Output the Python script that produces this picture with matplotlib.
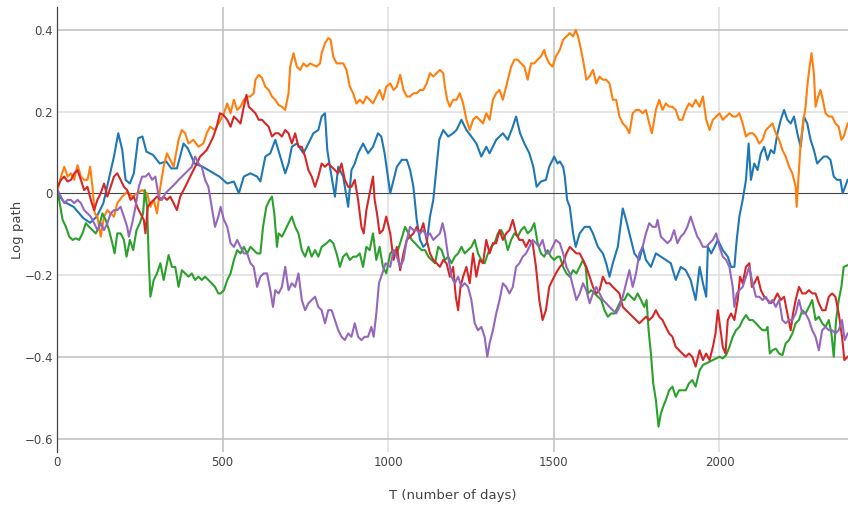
import matplotlib
matplotlib.use("Agg")
import matplotlib.pyplot as plt

# Log paths of five simulated series (day, log value)
blue_pts = [(0, 0.0), (20, -0.02), (50, -0.033), (80, -0.061), (100, -0.072), (120, -0.057), (140, -0.024), (155, 0.029),
            (172, 0.09), (185, 0.147), (197, 0.106), (207, 0.033), (220, 0.024), (232, 0.049), (245, 0.135), (258, 0.139),
            (270, 0.102), (290, 0.094), (310, 0.073), (330, 0.078), (345, 0.061), (362, 0.061), (382, 0.122), (395, 0.11),
            (415, 0.073), (440, 0.065), (465, 0.053), (490, 0.041),
            (514, 0.024), (534, 0.029), (549, 0.0), (564, 0.041), (584, 0.049), (604, 0.041), (614, 0.029), (629, 0.09),
            (644, 0.098), (659, 0.131), (674, 0.09), (689, 0.049), (699, 0.073), (709, 0.114), (724, 0.122), (744, 0.098),
            (759, 0.122), (774, 0.147), (789, 0.155), (799, 0.188), (809, 0.196), (816, 0.106), (824, 0.065), (839, -0.008),
            (849, 0.065), (864, 0.041), (879, -0.033), (889, 0.057), (899, 0.073), (909, 0.098), (924, 0.122), (939, 0.098),
            (954, 0.114), (969, 0.147), (979, 0.139), (989, 0.098), (999, 0.041),
            (1006, 0.0), (1016, 0.033), (1026, 0.065), (1041, 0.082), (1056, 0.082), (1066, 0.057), (1076, 0.016), (1086, -0.065),
            (1096, -0.114), (1106, -0.131), (1116, -0.122), (1126, -0.057), (1136, -0.016), (1146, 0.065), (1154, 0.131),
            (1166, 0.155), (1181, 0.139), (1196, 0.147), (1206, 0.155), (1221, 0.18), (1236, 0.155), (1251, 0.139), (1266, 0.122),
            (1281, 0.09), (1296, 0.114), (1306, 0.098), (1326, 0.131), (1346, 0.147), (1361, 0.131), (1376, 0.163), (1386, 0.188),
            (1398, 0.147), (1411, 0.122), (1426, 0.098), (1438, 0.065), (1448, 0.016), (1461, 0.029), (1476, 0.033), (1486, 0.065),
            (1501, 0.09), (1511, 0.073),
            (1518, 0.078), (1528, 0.065), (1533, 0.041), (1540, -0.016), (1548, -0.033), (1558, -0.098), (1566, -0.131),
            (1578, -0.098), (1593, -0.082), (1608, -0.082), (1618, -0.098), (1633, -0.131), (1648, -0.147), (1658, -0.171),
            (1668, -0.204), (1678, -0.171), (1693, -0.131), (1708, -0.037), (1718, -0.065), (1728, -0.098), (1743, -0.147),
            (1758, -0.163), (1768, -0.131), (1778, -0.163), (1793, -0.18), (1808, -0.147), (1823, -0.155), (1838, -0.163),
            (1853, -0.171), (1868, -0.212), (1883, -0.18), (1898, -0.188), (1913, -0.212), (1928, -0.261),
            (1940, -0.18), (1950, -0.22), (1960, -0.253), (1965, -0.131), (1975, -0.147), (1985, -0.131), (1995, -0.114),
            (2010, -0.139), (2025, -0.155), (2035, -0.18), (2045, -0.18), (2052, -0.114), (2060, -0.057), (2070, -0.016),
            (2080, 0.033), (2088, 0.122), (2095, 0.033), (2105, 0.073), (2115, 0.057), (2125, 0.098), (2135, 0.114),
            (2145, 0.082), (2155, 0.106), (2165, 0.098), (2175, 0.147), (2185, 0.18), (2195, 0.204), (2205, 0.18), (2215, 0.171),
            (2225, 0.188), (2235, 0.147), (2245, 0.114), (2255, 0.188), (2265, 0.171), (2275, 0.131), (2285, 0.106),
            (2295, 0.073), (2305, 0.082), (2315, 0.09), (2325, 0.09), (2335, 0.082), (2345, 0.041), (2355, 0.033),
            (2365, 0.033), (2372, 0.0), (2387, 0.033)]

orange_pts = [(0, 0.0), (2, 0.008), (12, 0.041), (22, 0.065), (32, 0.041), (42, 0.049), (52, 0.033), (62, 0.069), (72, 0.041),
              (82, 0.033), (92, 0.033), (100, 0.065), (107, 0.016), (114, -0.049), (122, -0.057), (132, -0.106), (142, -0.057),
              (152, -0.041), (162, -0.049), (172, -0.057), (182, -0.024), (197, -0.008), (212, 0.004), (227, -0.008), (242, 0.0),
              (257, 0.008), (272, 0.0), (282, -0.033), (292, -0.016), (302, -0.049), (312, 0.016), (322, 0.065), (332, 0.098),
              (342, 0.082), (352, 0.065), (367, 0.131), (377, 0.155), (387, 0.147), (397, 0.122), (412, 0.131), (427, 0.114),
              (442, 0.122), (452, 0.147), (462, 0.163), (477, 0.155), (487, 0.171),
              (494, 0.18), (504, 0.196), (514, 0.22), (524, 0.196), (534, 0.229), (544, 0.204), (554, 0.212), (564, 0.229),
              (574, 0.237), (584, 0.237), (594, 0.245), (599, 0.278), (609, 0.29), (619, 0.282), (629, 0.261), (639, 0.253),
              (649, 0.237), (659, 0.229), (669, 0.216), (679, 0.212), (689, 0.204), (699, 0.245), (704, 0.31), (714, 0.343),
              (724, 0.31), (734, 0.302), (744, 0.318), (754, 0.31), (764, 0.318), (774, 0.314), (784, 0.31), (794, 0.318),
              (799, 0.343), (809, 0.367), (819, 0.38), (826, 0.376), (834, 0.335), (844, 0.318), (854, 0.318), (864, 0.318),
              (874, 0.302), (884, 0.261), (894, 0.245), (904, 0.22), (914, 0.229), (924, 0.22), (934, 0.237), (944, 0.229),
              (954, 0.22), (964, 0.237), (974, 0.253), (984, 0.229), (994, 0.261),
              (1006, 0.269), (1016, 0.253), (1026, 0.261), (1036, 0.29), (1046, 0.253), (1056, 0.237), (1066, 0.237),
              (1076, 0.245), (1086, 0.245), (1096, 0.253), (1106, 0.253), (1116, 0.269), (1126, 0.294), (1136, 0.286),
              (1146, 0.294), (1156, 0.302), (1166, 0.294), (1171, 0.261), (1178, 0.229), (1186, 0.212), (1196, 0.229),
              (1206, 0.229), (1216, 0.245), (1226, 0.22), (1236, 0.18), (1246, 0.155), (1256, 0.18), (1266, 0.188), (1276, 0.18),
              (1286, 0.171), (1296, 0.196), (1306, 0.18), (1316, 0.229), (1326, 0.245), (1336, 0.253), (1346, 0.229),
              (1356, 0.261), (1366, 0.294), (1371, 0.31), (1381, 0.327), (1391, 0.327), (1401, 0.318), (1411, 0.31),
              (1421, 0.278), (1431, 0.318), (1441, 0.318), (1451, 0.327), (1461, 0.335), (1471, 0.351), (1476, 0.335),
              (1486, 0.318), (1496, 0.31), (1506, 0.335),
              (1518, 0.351), (1528, 0.376), (1538, 0.384), (1548, 0.392), (1558, 0.384), (1566, 0.4), (1573, 0.384),
              (1580, 0.359), (1588, 0.327), (1598, 0.278), (1608, 0.286), (1618, 0.302), (1628, 0.269), (1638, 0.286),
              (1648, 0.278), (1658, 0.278), (1668, 0.269), (1678, 0.229), (1688, 0.229), (1698, 0.188), (1708, 0.171),
              (1718, 0.163), (1728, 0.147), (1738, 0.196), (1748, 0.204), (1758, 0.204), (1768, 0.196), (1778, 0.204),
              (1788, 0.171), (1796, 0.147), (1808, 0.204), (1818, 0.229), (1828, 0.204), (1838, 0.22), (1848, 0.212),
              (1858, 0.212), (1868, 0.204), (1878, 0.18), (1888, 0.18), (1898, 0.204), (1908, 0.22), (1918, 0.212),
              (1928, 0.229),
              (1940, 0.212), (1950, 0.237), (1960, 0.18), (1970, 0.155), (1980, 0.18), (1990, 0.188), (2000, 0.196),
              (2010, 0.18), (2020, 0.188), (2030, 0.196), (2040, 0.188), (2050, 0.188), (2060, 0.196), (2070, 0.171),
              (2080, 0.139), (2090, 0.147), (2100, 0.147), (2110, 0.139), (2120, 0.122), (2130, 0.131), (2140, 0.155),
              (2150, 0.163), (2160, 0.171), (2170, 0.147), (2180, 0.131), (2190, 0.106), (2200, 0.09), (2210, 0.065),
              (2220, 0.049), (2230, 0.016), (2233, -0.033), (2238, 0.033), (2245, 0.122), (2252, 0.171), (2260, 0.212),
              (2265, 0.261), (2272, 0.31), (2278, 0.343), (2285, 0.294), (2290, 0.212), (2298, 0.237), (2305, 0.253),
              (2312, 0.229), (2320, 0.196), (2330, 0.188), (2340, 0.188), (2350, 0.171), (2360, 0.163), (2368, 0.131),
              (2375, 0.139), (2387, 0.171)]

green_pts = [(0, 0.0), (2, 0.004), (10, -0.033), (17, -0.065), (27, -0.082), (37, -0.106), (47, -0.114), (57, -0.11),
             (67, -0.114), (77, -0.098), (87, -0.073), (97, -0.082), (107, -0.09), (117, -0.098), (127, -0.082), (137, -0.049),
             (147, -0.065), (157, -0.09), (167, -0.122), (174, -0.147), (182, -0.098), (192, -0.098), (202, -0.114),
             (210, -0.155), (220, -0.114), (230, -0.139), (240, -0.09), (250, -0.073), (260, -0.049), (265, 0.008),
             (272, -0.033), (277, -0.163), (282, -0.253), (292, -0.212), (302, -0.196), (312, -0.171), (322, -0.212),
             (332, -0.171), (337, -0.151), (347, -0.18), (357, -0.18), (367, -0.229), (377, -0.188), (387, -0.196),
             (397, -0.204), (407, -0.196), (417, -0.212), (427, -0.204), (437, -0.212), (447, -0.204), (457, -0.212),
             (467, -0.22), (477, -0.229), (487, -0.245),
             (494, -0.245), (504, -0.237), (514, -0.212), (524, -0.196), (534, -0.163), (544, -0.139), (554, -0.147),
             (564, -0.131), (574, -0.147), (584, -0.131), (594, -0.139), (604, -0.147), (614, -0.147), (622, -0.082),
             (632, -0.033), (642, -0.016), (649, -0.008), (656, -0.049), (664, -0.131), (669, -0.098), (679, -0.106),
             (689, -0.09), (699, -0.073), (709, -0.057), (719, -0.082), (729, -0.098), (739, -0.139), (749, -0.155),
             (759, -0.131), (769, -0.155), (779, -0.139), (789, -0.155), (799, -0.131), (814, -0.122), (824, -0.114),
             (834, -0.122), (844, -0.147), (854, -0.18), (864, -0.155), (874, -0.147), (884, -0.163), (894, -0.155),
             (904, -0.155), (914, -0.147), (924, -0.18), (934, -0.131), (944, -0.139), (954, -0.098), (964, -0.163),
             (974, -0.131), (984, -0.18), (994, -0.196),
             (1006, -0.147), (1016, -0.139), (1026, -0.147), (1036, -0.122), (1051, -0.082), (1061, -0.098), (1071, -0.114),
             (1081, -0.122), (1091, -0.131), (1101, -0.139), (1111, -0.139), (1121, -0.155), (1131, -0.163), (1141, -0.171),
             (1151, -0.131), (1161, -0.139), (1171, -0.163), (1181, -0.155), (1191, -0.171), (1201, -0.155), (1211, -0.147),
             (1221, -0.131), (1231, -0.147), (1241, -0.139), (1251, -0.131), (1261, -0.114), (1271, -0.147), (1281, -0.163),
             (1291, -0.171), (1301, -0.147), (1311, -0.131), (1321, -0.122), (1331, -0.098), (1341, -0.09), (1351, -0.106),
             (1361, -0.139), (1371, -0.114), (1381, -0.098), (1391, -0.106), (1401, -0.09), (1411, -0.082), (1421, -0.098),
             (1431, -0.09), (1441, -0.073), (1451, -0.122), (1461, -0.147), (1471, -0.155), (1481, -0.139), (1491, -0.155),
             (1501, -0.163), (1511, -0.155),
             (1518, -0.155), (1528, -0.18), (1538, -0.196), (1548, -0.204), (1558, -0.188), (1568, -0.196), (1578, -0.18),
             (1588, -0.163), (1596, -0.18), (1603, -0.245), (1613, -0.237), (1623, -0.245), (1633, -0.253), (1643, -0.261),
             (1653, -0.286), (1663, -0.302), (1673, -0.294), (1683, -0.294), (1693, -0.278), (1703, -0.261), (1713, -0.261),
             (1723, -0.245), (1733, -0.253), (1743, -0.261), (1753, -0.245), (1763, -0.261), (1773, -0.278), (1780, -0.261),
             (1786, -0.335), (1793, -0.392), (1800, -0.465), (1808, -0.506), (1816, -0.571), (1823, -0.539), (1830, -0.522),
             (1838, -0.506), (1848, -0.482), (1858, -0.473), (1868, -0.498), (1878, -0.482), (1888, -0.482), (1898, -0.482),
             (1908, -0.465), (1918, -0.457), (1928, -0.473),
             (1940, -0.433), (1950, -0.42), (1960, -0.416), (1970, -0.412), (1980, -0.408), (1990, -0.404), (2000, -0.4),
             (2010, -0.404), (2020, -0.396), (2030, -0.376), (2040, -0.351), (2050, -0.335), (2060, -0.327), (2070, -0.31),
             (2080, -0.298), (2090, -0.31), (2100, -0.31), (2110, -0.318), (2120, -0.327), (2130, -0.335), (2140, -0.335),
             (2145, -0.327), (2152, -0.392), (2160, -0.384), (2170, -0.38), (2180, -0.392), (2190, -0.396), (2200, -0.367),
             (2210, -0.359), (2220, -0.343), (2230, -0.318), (2240, -0.31), (2250, -0.286), (2260, -0.294), (2270, -0.278),
             (2280, -0.261), (2290, -0.31), (2300, -0.302), (2310, -0.318), (2320, -0.327), (2330, -0.31), (2338, -0.343),
             (2345, -0.4), (2352, -0.31), (2360, -0.261), (2368, -0.229), (2375, -0.18), (2387, -0.176)]

red_pts = [(0, 0.02), (2, 0.016), (12, 0.033), (22, 0.041), (32, 0.029), (42, 0.033), (52, 0.049), (62, 0.057), (72, 0.033),
           (82, 0.008), (92, 0.016), (102, -0.016), (112, -0.041), (122, -0.016), (132, 0.0), (142, 0.024), (152, -0.008),
           (162, 0.016), (172, 0.041), (182, 0.049), (192, 0.033), (202, 0.016), (212, 0.008), (222, -0.016), (232, -0.008),
           (242, -0.033), (252, -0.049), (262, -0.065), (267, -0.098), (274, -0.033), (282, -0.024), (292, -0.016),
           (302, -0.008), (312, -0.016), (322, -0.008), (332, -0.016), (342, -0.008), (352, -0.024), (362, -0.041),
           (372, -0.008), (382, 0.008), (392, 0.024), (402, 0.041), (412, 0.057), (422, 0.073), (432, 0.09), (442, 0.098),
           (452, 0.106), (462, 0.122), (472, 0.139), (482, 0.163), (492, 0.196), (502, 0.192),
           (514, 0.18), (524, 0.163), (534, 0.188), (544, 0.18), (554, 0.171), (564, 0.212), (572, 0.241), (579, 0.212),
           (589, 0.204), (599, 0.196), (609, 0.18), (619, 0.18), (629, 0.171), (639, 0.163), (649, 0.139), (659, 0.147),
           (669, 0.147), (679, 0.139), (689, 0.155), (699, 0.147), (709, 0.122), (719, 0.147), (729, 0.114), (739, 0.114),
           (749, 0.09), (759, 0.057), (769, 0.041), (779, 0.016), (789, 0.041), (799, 0.073), (809, 0.065), (819, 0.073),
           (829, 0.065), (839, 0.057), (849, 0.049), (859, 0.073), (869, 0.033), (879, 0.016), (889, 0.016), (899, 0.033),
           (909, -0.016), (919, -0.082), (926, -0.098), (934, -0.041), (944, 0.0), (954, 0.041), (959, -0.016),
           (966, -0.049), (974, -0.098), (984, -0.09), (994, -0.057),
           (1006, -0.098), (1016, -0.163), (1026, -0.131), (1036, -0.188), (1046, -0.147), (1056, -0.114), (1066, -0.106),
           (1076, -0.098), (1086, -0.082), (1096, -0.098), (1106, -0.073), (1116, -0.114), (1126, -0.147), (1136, -0.163),
           (1146, -0.171), (1156, -0.18), (1166, -0.163), (1176, -0.171), (1186, -0.204), (1196, -0.18), (1204, -0.253),
           (1211, -0.286), (1218, -0.229), (1226, -0.204), (1236, -0.18), (1246, -0.22), (1256, -0.147), (1266, -0.204),
           (1276, -0.163), (1286, -0.171), (1296, -0.114), (1306, -0.147), (1316, -0.122), (1326, -0.122), (1336, -0.09),
           (1346, -0.114), (1356, -0.098), (1366, -0.09), (1376, -0.065), (1386, -0.098), (1396, -0.114), (1406, -0.114),
           (1416, -0.131), (1426, -0.114), (1436, -0.122), (1446, -0.18), (1456, -0.261), (1466, -0.31), (1476, -0.286),
           (1486, -0.229), (1496, -0.212), (1506, -0.196),
           (1518, -0.18), (1528, -0.171), (1538, -0.147), (1548, -0.131), (1558, -0.139), (1568, -0.147), (1578, -0.147),
           (1588, -0.163), (1598, -0.18), (1608, -0.204), (1618, -0.229), (1628, -0.245), (1638, -0.237), (1648, -0.204),
           (1658, -0.22), (1668, -0.22), (1678, -0.229), (1688, -0.237), (1698, -0.245), (1708, -0.278), (1718, -0.286),
           (1728, -0.294), (1738, -0.302), (1748, -0.31), (1758, -0.318), (1768, -0.31), (1778, -0.302), (1788, -0.31),
           (1798, -0.302), (1808, -0.286), (1818, -0.302), (1828, -0.31), (1838, -0.327), (1848, -0.343), (1858, -0.351),
           (1868, -0.376), (1878, -0.384), (1888, -0.392), (1898, -0.4), (1908, -0.392), (1918, -0.4), (1928, -0.424),
           (1940, -0.384), (1950, -0.408), (1960, -0.392), (1970, -0.408), (1980, -0.376), (1988, -0.343), (1995, -0.286),
           (2002, -0.327), (2010, -0.376), (2018, -0.392), (2025, -0.31), (2035, -0.294), (2045, -0.31), (2055, -0.261),
           (2062, -0.204), (2070, -0.22), (2080, -0.18), (2090, -0.171), (2098, -0.229), (2105, -0.22), (2115, -0.204),
           (2125, -0.237), (2135, -0.253), (2145, -0.261), (2155, -0.269), (2165, -0.261), (2175, -0.245), (2185, -0.261),
           (2195, -0.253), (2205, -0.294), (2215, -0.335), (2222, -0.294), (2230, -0.261), (2240, -0.229), (2250, -0.245),
           (2260, -0.245), (2270, -0.237), (2280, -0.245), (2290, -0.245), (2300, -0.269), (2310, -0.286), (2320, -0.286),
           (2330, -0.253), (2340, -0.245), (2350, -0.253), (2360, -0.294), (2370, -0.351), (2377, -0.408), (2387, -0.4)]

purple_pts = [(0, 0.0), (2, 0.008), (12, -0.008), (22, -0.024), (32, -0.016), (42, -0.016), (52, -0.024), (62, -0.016),
              (72, -0.024), (82, -0.041), (92, -0.049), (102, -0.057), (112, -0.073), (122, -0.09), (132, -0.073), (142, -0.09),
              (152, -0.073), (162, -0.049), (172, -0.041), (182, -0.041), (192, -0.033), (202, -0.057), (212, -0.082),
              (217, -0.106), (227, -0.073), (237, -0.033), (247, 0.016), (257, 0.041), (267, 0.041), (277, 0.049), (287, 0.033),
              (297, 0.041), (307, -0.008), (317, -0.016), (327, 0.0), (337, 0.008), (347, 0.016), (357, 0.024), (367, 0.033),
              (377, 0.041), (387, 0.049), (397, 0.057), (407, 0.065), (417, 0.09), (427, 0.073), (437, 0.065), (447, 0.033),
              (457, 0.016), (467, -0.033), (477, -0.082), (487, -0.057),
              (494, -0.033), (504, -0.065), (514, -0.082), (524, -0.122), (534, -0.131), (544, -0.114), (554, -0.131),
              (564, -0.147), (574, -0.147), (584, -0.171), (594, -0.18), (604, -0.229), (614, -0.204), (624, -0.196),
              (634, -0.196), (644, -0.237), (652, -0.278), (659, -0.237), (669, -0.245), (679, -0.229), (689, -0.18),
              (699, -0.237), (709, -0.22), (719, -0.229), (729, -0.196), (739, -0.261), (749, -0.286), (759, -0.269),
              (769, -0.261), (779, -0.253), (789, -0.278), (799, -0.286), (809, -0.318), (819, -0.286), (829, -0.286),
              (839, -0.31), (849, -0.335), (859, -0.351), (869, -0.359), (879, -0.343), (889, -0.351), (899, -0.318),
              (909, -0.351), (919, -0.359), (929, -0.351), (939, -0.351), (949, -0.327), (956, -0.351), (964, -0.294),
              (972, -0.22), (982, -0.196), (992, -0.171),
              (1006, -0.18), (1016, -0.139), (1026, -0.155), (1036, -0.18), (1046, -0.163), (1056, -0.114), (1066, -0.082),
              (1076, -0.09), (1086, -0.09), (1096, -0.098), (1106, -0.09), (1116, -0.106), (1126, -0.098), (1136, -0.114),
              (1146, -0.106), (1156, -0.098), (1164, -0.073), (1171, -0.098), (1181, -0.155), (1191, -0.204), (1201, -0.22),
              (1211, -0.204), (1221, -0.229), (1231, -0.22), (1241, -0.229), (1251, -0.261), (1261, -0.318), (1271, -0.335),
              (1281, -0.327), (1291, -0.351), (1299, -0.4), (1306, -0.367), (1316, -0.335), (1326, -0.294), (1336, -0.261),
              (1346, -0.22), (1356, -0.229), (1366, -0.245), (1376, -0.229), (1386, -0.18), (1396, -0.171), (1406, -0.155),
              (1416, -0.147), (1426, -0.131), (1436, -0.114), (1446, -0.122), (1456, -0.131), (1466, -0.114), (1476, -0.147),
              (1486, -0.147), (1496, -0.131), (1506, -0.114),
              (1518, -0.122), (1528, -0.147), (1538, -0.18), (1548, -0.196), (1558, -0.229), (1568, -0.261), (1578, -0.245),
              (1588, -0.22), (1598, -0.237), (1608, -0.269), (1618, -0.245), (1628, -0.229), (1638, -0.245), (1648, -0.261),
              (1658, -0.269), (1668, -0.278), (1678, -0.286), (1688, -0.294), (1698, -0.278), (1708, -0.253), (1718, -0.22),
              (1728, -0.188), (1738, -0.229), (1748, -0.196), (1758, -0.147), (1768, -0.131), (1778, -0.098), (1788, -0.073),
              (1798, -0.082), (1808, -0.082), (1813, -0.065), (1823, -0.106), (1833, -0.114), (1843, -0.122), (1853, -0.114),
              (1863, -0.09), (1873, -0.122), (1883, -0.106), (1893, -0.098), (1903, -0.082), (1913, -0.057), (1923, -0.082),
              (1933, -0.106),
              (1940, -0.114), (1950, -0.131), (1960, -0.131), (1970, -0.122), (1980, -0.114), (1990, -0.098), (2000, -0.131),
              (2010, -0.155), (2020, -0.163), (2030, -0.18), (2040, -0.229), (2045, -0.278), (2052, -0.245), (2060, -0.237),
              (2070, -0.229), (2080, -0.204), (2090, -0.18), (2100, -0.22), (2110, -0.253), (2120, -0.253), (2130, -0.261),
              (2140, -0.253), (2150, -0.269), (2160, -0.261), (2170, -0.278), (2180, -0.261), (2190, -0.31), (2200, -0.318),
              (2210, -0.31), (2220, -0.31), (2230, -0.294), (2240, -0.261), (2250, -0.294), (2260, -0.294), (2270, -0.31),
              (2280, -0.335), (2290, -0.351), (2300, -0.384), (2310, -0.335), (2320, -0.327), (2330, -0.335), (2340, -0.335),
              (2350, -0.343), (2360, -0.335), (2370, -0.31), (2378, -0.359), (2387, -0.343)]

series = [blue_pts, orange_pts, green_pts, red_pts, purple_pts]
colors = ['#1f77b4', '#ff7f0e', '#2ca02c', '#d62728', '#9467bd']

x_ticks = [0, 500, 1000, 1500, 2000]
y_ticks = [0.4, 0.2, 0, -0.2, -0.4, -0.6]
y_labels = ['0.4', '0.2', '0', '\u22120.2', '\u22120.4', '\u22120.6']

W, H = 848, 511
fig = plt.figure(figsize=(W / 100, H / 100), dpi=100)
ax = fig.add_axes([57 / W, 1 - 452 / H, (W - 57) / W, (452 - 7) / H])

# grid, drawn by hand because the reference alternates two grey tones
dark, light = '#bfbfbf', '#dedede'
for x in x_ticks[1:]:
    ax.axvline(x, color=dark if x in (500, 1500) else light, lw=1.1, zorder=0)
for y in y_ticks:
    if y == 0:
        continue
    ax.axhline(y, color=dark if y in (0.4, -0.4, -0.6) else light, lw=1.1, zorder=0)
ax.axhline(0, color='#444444', lw=0.8, zorder=1)

for pts, c in zip(series, colors):
    days = [p[0] for p in pts]
    vals = [p[1] for p in pts]
    ax.plot(days, vals, color=c, lw=1.5, zorder=2, solid_joinstyle='round')

ax.set_xlim(0, 2388)
ax.set_ylim(-0.633, 0.456)
ax.set_xticks(x_ticks)
ax.set_xticklabels([str(x) for x in x_ticks])
ax.set_yticks(y_ticks)
ax.set_yticklabels(y_labels)
ax.tick_params(length=0, labelsize=8.5, labelcolor='#444444', pad=3)

for side in ['top', 'right', 'bottom']:
    ax.spines[side].set_visible(False)
ax.spines['left'].set_color('#444444')
ax.spines['left'].set_linewidth(0.9)

ax.set_xlabel('T (number of days)', fontsize=9.5, color='#444444')
ax.xaxis.set_label_coords(0.5, -(495 - 452) / 445)
ax.xaxis.label.set_va('center')
ax.set_ylabel('Log path', fontsize=9.5, color='#444444')
ax.yaxis.set_label_coords(-(57 - 18) / 791, 0.5)
ax.yaxis.label.set_va('center')

fig.savefig('out.png', dpi=100)
